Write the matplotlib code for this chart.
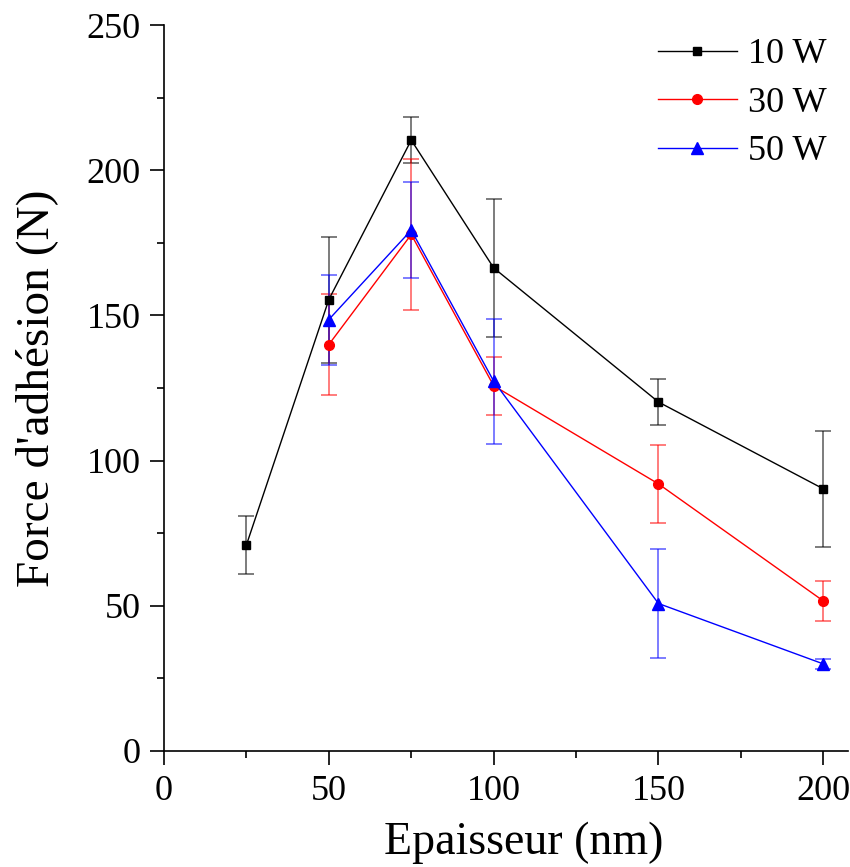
import numpy as np
import matplotlib.pyplot as plt
from matplotlib.ticker import MultipleLocator
from matplotlib.lines import Line2D

plt.rcParams['font.family'] = ['Liberation Serif', 'DejaVu Serif']

# epaisseur (nm)
x_10 = [25, 50, 75, 100, 150, 200]
x_30 = [50, 75, 100, 150, 200]
x_50 = [50, 75, 100, 150, 200]

# force d'adhesion (N) et ecarts
y_10 = [71, 155.5, 210.4, 166.4, 120.2, 90.3]
e_10 = [10, 21.7, 8, 23.7, 8, 20]
y_30 = [140, 177.9, 125.8, 92, 51.7]
e_30 = [17.4, 26, 10, 13.5, 7]
y_50 = [148.6, 179.4, 127.4, 50.8, 30]
e_50 = [15.5, 16.6, 21.5, 18.8, 1.8]

series = [
    (x_10, y_10, e_10, "black", "s", 6, "10 W"),
    (x_30, y_30, e_30, "red", "o", 7, "30 W"),
    (x_50, y_50, e_50, "blue", "^", 8, "50 W"),
]


def main():
    fig = plt.figure(figsize=(8.5, 8.67), dpi=100)
    ax = fig.add_axes([0.193, 0.1338, 0.805, 0.8372])

    handles = []
    for x, y, e, c, m, ms, lab in series:
        ax.errorbar(x, y, yerr=e, color=c, marker=m, markersize=ms, lw=1,
                    ecolor=c, elinewidth=1.2, capsize=6, capthick=1.2)
        handles.append(Line2D([], [], color=c, marker=m, markersize=ms,
                              lw=1, label=lab))
    # barres d'erreur un peu transparentes comme l'original
    for coll in ax.collections:
        coll.set_alpha(0.6)
    for line in ax.lines:
        if line.get_marker() == "_":
            line.set_alpha(0.6)

    ax.set_xlim(0, 207.6)
    ax.set_ylim(0, 250)
    ax.xaxis.set_major_locator(MultipleLocator(50))
    ax.xaxis.set_minor_locator(MultipleLocator(25))
    ax.yaxis.set_major_locator(MultipleLocator(50))
    ax.yaxis.set_minor_locator(MultipleLocator(25))
    ax.tick_params(which="major", direction="out", length=10, width=1.2,
                   labelsize=26, pad=7)
    ax.tick_params(which="minor", direction="out", length=5, width=1.2)
    ax.spines["top"].set_visible(False)
    ax.spines["right"].set_visible(False)
    ax.spines["left"].set_linewidth(1.2)
    ax.spines["bottom"].set_linewidth(1.2)

    ax.set_xlabel("Epaisseur (nm)", fontsize=33, labelpad=10)
    ax.xaxis.label.set_x(0.526)
    ax.set_ylabel("Force d'adhésion (N)", fontsize=34, labelpad=20)

    ax.legend(handles=handles, loc="upper right", frameon=False, fontsize=26,
              handlelength=2.2, handletextpad=0.3, labelspacing=0.42,
              borderaxespad=0.2, bbox_to_anchor=(1.0, 1.012))

    fig.savefig("out.png", dpi=100)


if __name__ == "__main__":
    main()
